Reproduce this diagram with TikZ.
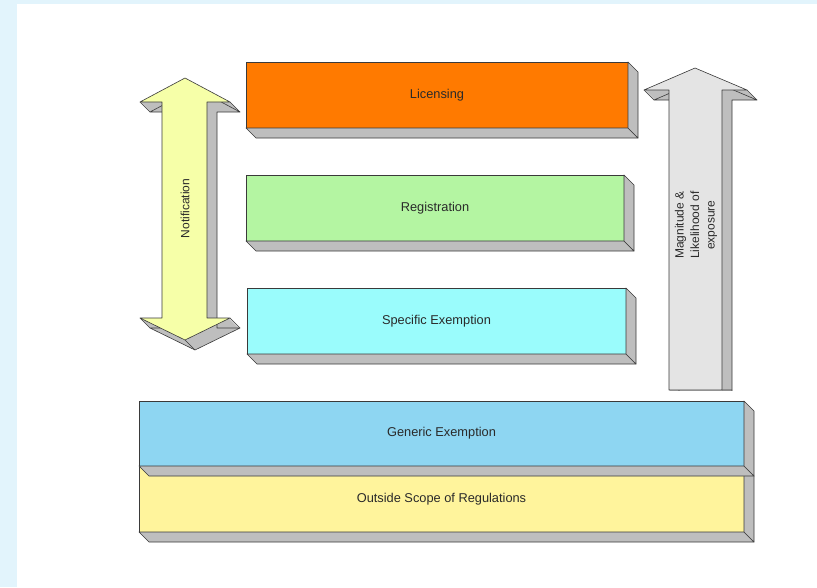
\documentclass[tikz,border=0pt]{standalone}
\usepackage{fontspec}
\setmainfont{Liberation Sans}
\definecolor{bgblue}{HTML}{E2F4FC}
\definecolor{depthgray}{HTML}{BEBEBE}
\definecolor{edgecol}{HTML}{3A3A3A}
\definecolor{licc}{HTML}{FF7A00}
\definecolor{regc}{HTML}{B4F5A2}
\definecolor{specc}{HTML}{9AFCFC}
\definecolor{genc}{HTML}{8ED6F2}
\definecolor{outc}{HTML}{FFF49C}
\definecolor{notifc}{HTML}{F6FFA8}
\definecolor{magc}{HTML}{E4E4E4}
\definecolor{txtc}{HTML}{2A2A2A}
\begin{document}
\begin{tikzpicture}[x=1pt,y=-1pt,
  edge/.style={draw=edgecol,line width=0.6pt,line join=round},
  face/.style={edge,rectangle,outer sep=0pt,inner sep=0pt,text=txtc,font=\fontsize{12.8}{15}\selectfont},
  depthface/.style={edge,fill=depthgray},
  lbl/.style={text=txtc,font=\fontsize{12}{15.5}\selectfont,align=center,rotate=90,inner sep=0pt}]
\useasboundingbox (0,0) rectangle (817,587);
\fill[bgblue] (0,0) rectangle (817,4);
\fill[bgblue] (0,0) rectangle (17,587);

% ---------- Notification double arrow ----------
\def\notifshape{(162,102) -- (140,102) -- (185,78) -- (230,102) -- (207,102) -- (207,318) -- (230,318) -- (185,340) -- (140,318) -- (162,318) -- cycle}
\foreach \i in {0,0.5,...,10} {\fill[depthgray,shift={(\i,\i)}] \notifshape;}
\draw[edge,shift={(10,10)}] \notifshape;
\draw[edge] (140,102) -- (150,112) (230,102) -- (240,112) (230,318) -- (240,328) (185,340) -- (195,350) (140,318) -- (150,328);
\draw[edge,fill=notifc] \notifshape;
\node[lbl] (notif) at (185,208.5) {Notification};

% ---------- Magnitude arrow ----------
\def\magshape{(669,390) -- (669,90) -- (644,90) -- (695,68) -- (747,90) -- (722,90) -- (722,390) -- cycle}
\begin{scope}
\clip (600,0) rectangle (800,390);
\foreach \i in {0,0.5,...,10} {\fill[depthgray,shift={(\i,\i)}] \magshape;}
\draw[edge,shift={(10,10)}] \magshape;
\end{scope}
\draw[edge] (644,90) -- (654,100) (747,90) -- (757,100) (722,390) -- (732,390);
\draw[edge,fill=magc] \magshape;
\node[lbl] (mag) at (696,225) {Magnitude \&\\Likelihood of\\exposure};

% ---------- Boxes ----------
\node[face,fill=licc,minimum width=382pt,minimum height=66pt] (lic) at (437,95) {Licensing};
\draw[depthface] (lic.south west) -- (lic.south east) -- ++(10,10) -- ([shift={(10,10)}]lic.south west) -- cycle;
\draw[depthface] (lic.north east) -- ++(10,10) -- ([shift={(10,10)}]lic.south east) -- (lic.south east) -- cycle;

\node[face,fill=regc,minimum width=378pt,minimum height=66pt] (reg) at (435,208) {Registration};
\draw[depthface] (reg.south west) -- (reg.south east) -- ++(10,10) -- ([shift={(10,10)}]reg.south west) -- cycle;
\draw[depthface] (reg.north east) -- ++(10,10) -- ([shift={(10,10)}]reg.south east) -- (reg.south east) -- cycle;

\node[face,fill=specc,minimum width=379pt,minimum height=66pt] (spec) at (436.5,321) {Specific Exemption};
\draw[depthface] (spec.south west) -- (spec.south east) -- ++(10,10) -- ([shift={(10,10)}]spec.south west) -- cycle;
\draw[depthface] (spec.north east) -- ++(10,10) -- ([shift={(10,10)}]spec.south east) -- (spec.south east) -- cycle;

\node[face,fill=outc,minimum width=605pt,minimum height=66pt] (out) at (441.5,499) {Outside Scope of Regulations};
\draw[depthface] (out.south west) -- (out.south east) -- ++(10,10) -- ([shift={(10,10)}]out.south west) -- cycle;
\draw[depthface] (out.north east) -- ++(10,10) -- ([shift={(10,10)}]out.south east) -- (out.south east) -- cycle;

\node[face,fill=genc,minimum width=605pt,minimum height=65pt] (gen) at (441.5,433.5) {Generic Exemption};
\draw[depthface] (gen.south west) -- (gen.south east) -- ++(10,10) -- ([shift={(10,10)}]gen.south west) -- cycle;
\draw[depthface] (gen.north east) -- ++(10,10) -- ([shift={(10,10)}]gen.south east) -- (gen.south east) -- cycle;
\end{tikzpicture}
\end{document}
